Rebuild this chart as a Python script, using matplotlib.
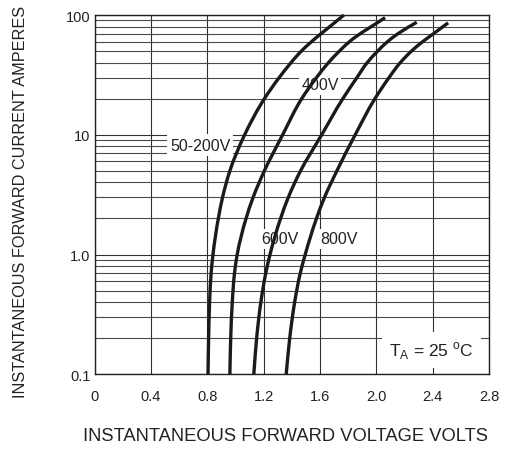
import matplotlib
matplotlib.use("Agg")
import matplotlib.pyplot as plt
from matplotlib.path import Path
from matplotlib.patches import PathPatch
import numpy as np

plt.rcParams['font.family'] = ['Liberation Sans', 'DejaVu Sans']
plt.rcParams['mathtext.fontset'] = 'custom'
plt.rcParams['mathtext.rm'] = 'Liberation Sans'

# ---- data (forward current in A, forward voltage in V) ----
current_50_200 = [0.1, 0.2, 0.4, 0.7, 1.0, 2.0, 3.0, 5.0, 10, 20, 30, 50, 100]
volt_50_200 = [0.805, 0.809, 0.816, 0.827, 0.84, 0.878, 0.908, 0.96, 1.065, 1.205, 1.31, 1.468, 1.77]

current_400 = [0.1, 0.2, 0.4, 0.7, 1.0, 2.0, 3.0, 5.0, 10, 20, 30, 40, 50, 60, 95]
volt_400 = [0.96, 0.966, 0.977, 0.993, 1.012, 1.075, 1.125, 1.205, 1.335, 1.47, 1.575, 1.66, 1.738, 1.81, 2.062]

current_600 = [0.1, 0.2, 0.4, 0.7, 1.0, 2.0, 3.0, 5.0, 10, 20, 30, 40, 50, 60, 70, 87]
volt_600 = [1.13, 1.15, 1.18, 1.215, 1.245, 1.32, 1.375, 1.462, 1.612, 1.762, 1.862, 1.935, 2.01, 2.08, 2.155, 2.287]

current_800 = [0.1, 0.2, 0.4, 0.7, 1.0, 2.0, 3.0, 5.0, 10, 20, 30, 40, 50, 60, 69, 86]
volt_800 = [1.36, 1.385, 1.42, 1.46, 1.495, 1.575, 1.632, 1.72, 1.85, 1.99, 2.09, 2.17, 2.25, 2.33, 2.40, 2.51]

x_ticks = [0, 0.4, 0.8, 1.2, 1.6, 2.0, 2.4, 2.8]
x_ticklabels = ['0', '0.4', '0.8', '1.2', '1.6', '2.0', '2.4', '2.8']
y_ticks = [0.1, 1, 10, 100]
y_ticklabels = ['0.1', '1.0', '10', '100']


def smooth_curve_path(volts, amps):
    """Cubic Hermite (as Bezier) through the read points, V as a function of log10(I)."""
    v = np.asarray(volts, float)
    t = np.log10(np.asarray(amps, float))
    h = np.diff(t)
    d = np.diff(v) / h
    m = np.empty_like(v)
    m[0], m[-1] = d[0], d[-1]
    m[1:-1] = (h[:-1] * d[1:] + h[1:] * d[:-1]) / (h[:-1] + h[1:])
    verts = [(v[0], t[0])]
    codes = [Path.MOVETO]
    for k in range(len(v) - 1):
        verts += [(v[k] + m[k] * h[k] / 3, t[k] + h[k] / 3),
                  (v[k + 1] - m[k + 1] * h[k] / 3, t[k + 1] - h[k] / 3),
                  (v[k + 1], t[k + 1])]
        codes += [Path.CURVE4] * 3
    verts = np.array(verts)
    verts[:, 1] = 10.0 ** verts[:, 1]
    return Path(verts, codes)


fig = plt.figure(figsize=(5.11, 4.52), dpi=100)
ax = fig.add_axes([0.1853, 0.1697, 0.7716, 0.7949])

ax.set_yscale('log')
ax.set_xlim(0, 2.8)
ax.set_ylim(0.1, 100)

ax.set_xticks(x_ticks)
ax.set_xticklabels(x_ticklabels)
ax.set_yticks(y_ticks)
ax.set_yticklabels(y_ticklabels)
minor = [m * 10.0 ** d for d in (-1, 0, 1) for m in range(2, 10)]
ax.set_yticks(minor, minor=True)
ax.yaxis.set_minor_formatter(matplotlib.ticker.NullFormatter())
ax.tick_params(axis='both', which='both', length=0)
ax.tick_params(axis='x', pad=10.5, labelsize=10.5, colors='#222222')
ax.tick_params(axis='y', pad=3, labelsize=10.5, colors='#222222')

ax.grid(True, which='major', axis='both', color='#303030', lw=0.8)
ax.grid(True, which='minor', axis='y', color='#4a4a4a', lw=0.8)
ax.set_axisbelow(True)
for s in ax.spines.values():
    s.set_color('#222222')
    s.set_linewidth(1.0)

for v, i in [(volt_50_200, current_50_200), (volt_400, current_400),
             (volt_600, current_600), (volt_800, current_800)]:
    ax.add_patch(PathPatch(smooth_curve_path(v, i), fill=False, ec='#1a1a1a', lw=2.4,
                           capstyle='butt', joinstyle='round', zorder=5, clip_on=False))

box = dict(boxstyle='square,pad=0.15', fc='white', ec='none')
lab_kw = dict(fontsize=11.5, color='#222222', ha='center', va='center', zorder=3)
ax.text(0.748, 8.2, '50-200V', bbox=dict(boxstyle='square,pad=0.2', fc='white', ec='none'), **lab_kw)
ax.text(1.60, 26.2, '400V', bbox=box, **lab_kw)
ax.text(1.316, 1.35, '600V', bbox=box, **lab_kw)
ax.text(1.734, 1.35, '800V', bbox=box, **lab_kw)

ax.text(2.39, 0.16, r'T$_{\mathrm{A}}$ = 25 $^{\mathrm{o}}$C', fontsize=12.5, color='#222222',
        ha='center', va='center', zorder=3,
        bbox=dict(boxstyle='square,pad=0.4', fc='white', ec='none'))

fig.text(285.5 / 511, 1 - 437 / 452, 'INSTANTANEOUS FORWARD VOLTAGE VOLTS',
         fontsize=13.2, color='#222222', ha='center', va='center')
fig.text(21 / 511, 1 - 202 / 452, 'INSTANTANEOUS FORWARD CURRENT AMPERES',
         fontsize=11.7, color='#222222', ha='center', va='center', rotation=90)

fig.savefig('out.png', dpi=100)
